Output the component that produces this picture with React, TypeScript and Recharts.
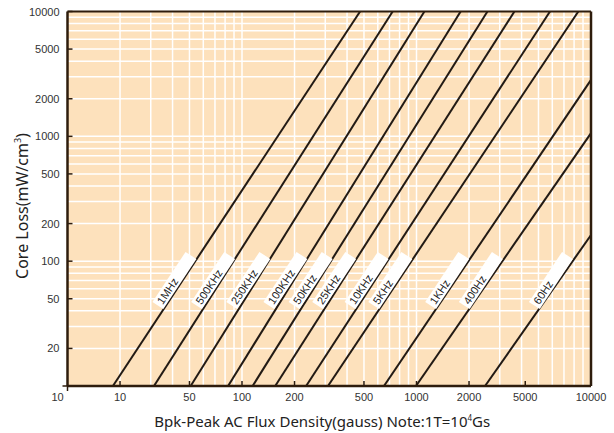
import React from 'react';
import { LineChart, Line, XAxis, YAxis, ReferenceArea, ReferenceLine, ReferenceDot } from 'recharts';

// Frequency curves: each is a straight line on the log-log chart
const SERIES_NAMES = ['1MHz', '500KHz', '250KHz', '100KHz', '50KHz', '25KHz', '10KHz', '5KHz', '1KHz', '400Hz', '60Hz'];
const START_LOSS = 10;
const START_FLUX = [18.2, 31.3, 50.8, 83.2, 115, 155, 233, 311, 651, 993, 2470];
const END_FLUX = [475, 730, 1110, 1790, 2550, 3640, 5820, 8460, 10000, 10000, 10000];
const END_LOSS = [10000, 10000, 10000, 10000, 10000, 10000, 10000, 10000, 2830, 1060, 162];

// Label box centres (data units)
const LABEL_FLUX = [41.0, 68.3, 108.7, 177.3, 247.3, 337.6, 517.6, 707.7, 1499, 2336, 5891];
const LABEL_LOSS = 70;

const X_TICKS = [10, 20, 50, 100, 200, 500, 1000, 2000, 4200, 10000];
const X_TICK_LABELS = ['10', '10', '50', '100', '200', '500', '1000', '2000', '5000', '10000'];
const Y_TICKS = [10, 20, 50, 100, 200, 500, 1000, 2000, 5000, 10000];
const Y_TICK_LABELS = ['', '20', '50', '100', '200', '500', '1000', '2000', '5000', '10000'];

const GRID_X = [20, 30, 40, 50, 60, 70, 80, 90, 100, 200, 300, 400, 500, 600, 700, 800, 900, 1000, 2000, 3000, 4000, 5000, 6000, 7000, 8000, 9000];
const GRID_Y = [20, 30, 40, 50, 60, 70, 80, 90, 100, 200, 300, 400, 500, 600, 700, 800, 900, 1000, 2000, 3000, 4000, 5000, 6000, 7000, 8000, 9000];

const BG = '#FDE1BC';
const AXIS = '#2e1c0c';
const CURVE = '#221a14';
const TICK_FONT = '"Liberation Sans", Arial, sans-serif';
const TITLE_FONT = '"Noto Sans", "Open Sans", sans-serif';

const findIdx = (arr: number[], v: number) => arr.findIndex((a) => Math.abs(a - v) < 1e-6 * a);

const XTick = (props: any) => {
  const { x, y, payload } = props;
  const i = findIdx(X_TICKS, payload.value);
  const corner = i === 0;
  return (
    <g>
      <line x1={x} x2={x} y1={y} y2={corner ? y + 5 : y - 5} stroke={AXIS} strokeWidth={1.5} />
      <text x={corner ? x - 10 : x} y={y + 15} textAnchor="middle" fontSize={11} fill="#333" fontFamily={TICK_FONT}>
        {X_TICK_LABELS[i]}
      </text>
    </g>
  );
};

const YTick = (props: any) => {
  const { x, y, payload } = props;
  const i = findIdx(Y_TICKS, payload.value);
  const corner = i === 0;
  return (
    <g>
      <line x1={x} x2={corner ? x - 5 : x + 5} y1={y} y2={y} stroke={AXIS} strokeWidth={1.5} />
      {Y_TICK_LABELS[i] ? (
        <text x={x - 8} y={y + 4} textAnchor="end" fontSize={11} fill="#333" fontFamily={TICK_FONT}>
          {Y_TICK_LABELS[i]}
        </text>
      ) : null}
    </g>
  );
};

const FreqLabel = ({ cx, cy, text }: { cx: number; cy: number; text: string }) => (
  <g transform={`translate(${cx},${cy}) rotate(-56.5)`}>
    <rect x={-30} y={-6.5} width={60} height={13} fill="#ffffff" />
    <text x={-27} y={4} fontSize={11} fill="#222" fontFamily={TICK_FONT}>
      {text}
    </text>
  </g>
);

const XTitle = (props: any) => {
  const vb = props.viewBox || { x: 67.5, width: 523.5 };
  const cx = vb.x + vb.width / 2 - 7;
  return (
    <text x={cx} y={427} textAnchor="middle" fontSize={15} fill="#222" fontFamily={TITLE_FONT}>
      Bpk-Peak AC Flux Density(gauss) Note:1T=10
      <tspan dy={-6} fontSize={8}>4</tspan>
      <tspan dy={6}>Gs</tspan>
    </text>
  );
};

const YTitle = () => (
  <text transform="translate(27.5,206) rotate(-90)" textAnchor="middle" fontSize={16} fill="#222" fontFamily={TITLE_FONT}>
    Core Loss(mW/cm
    <tspan dy={-7} fontSize={9}>3</tspan>
    <tspan dy={7}>)</tspan>
  </text>
);

export default function App() {
  return (
    <div style={{ position: 'absolute', left: 0, top: 0, width: 614, height: 433, background: '#fff' }}>
      <LineChart width={614} height={433} margin={{ top: 11.5, right: 23, bottom: 0, left: 0 }}>
        <ReferenceArea x1={10} x2={10000} y1={10} y2={10000} fill={BG} fillOpacity={1} stroke="none" />
        {GRID_X.map((v) => (
          <ReferenceLine key={'gx' + v} x={v} stroke="#ffffff" strokeWidth={1.5} />
        ))}
        {GRID_Y.map((v) => (
          <ReferenceLine key={'gy' + v} y={v} stroke="#ffffff" strokeWidth={1.5} />
        ))}
        {SERIES_NAMES.map((name, i) => (
          <Line
            key={name}
            data={[
              { x: START_FLUX[i], y: START_LOSS },
              { x: END_FLUX[i], y: END_LOSS[i] },
            ]}
            dataKey="y"
            type="linear"
            stroke={CURVE}
            strokeWidth={2}
            dot={false}
            activeDot={false}
            isAnimationActive={false}
          />
        ))}
        {SERIES_NAMES.map((name, i) => (
          <ReferenceDot
            key={'lbl' + name}
            x={LABEL_FLUX[i]}
            y={LABEL_LOSS}
            r={0}
            shape={(p: any) => <FreqLabel cx={p.cx} cy={p.cy} text={name} />}
          />
        ))}
        <ReferenceLine y={10000} stroke={AXIS} strokeWidth={2} />
        <ReferenceLine x={10000} stroke={AXIS} strokeWidth={2.5} />
        <XAxis
          dataKey="x"
          type="number"
          scale="log"
          domain={[10, 10000]}
          allowDataOverflow
          ticks={X_TICKS}
          interval={0}
          tick={<XTick />}
          tickLine={false}
          tickSize={0}
          tickMargin={0}
          height={47}
          axisLine={{ stroke: AXIS, strokeWidth: 2.5 }}
          label={{ content: (p: any) => <XTitle {...p} /> }}
        />
        <YAxis
          type="number"
          scale="log"
          domain={[10, 10000]}
          allowDataOverflow
          ticks={Y_TICKS}
          interval={0}
          tick={<YTick />}
          tickLine={false}
          tickSize={0}
          tickMargin={0}
          width={67.5}
          axisLine={{ stroke: AXIS, strokeWidth: 2.5 }}
          label={{ content: () => <YTitle /> }}
        />
      </LineChart>
    </div>
  );
}
